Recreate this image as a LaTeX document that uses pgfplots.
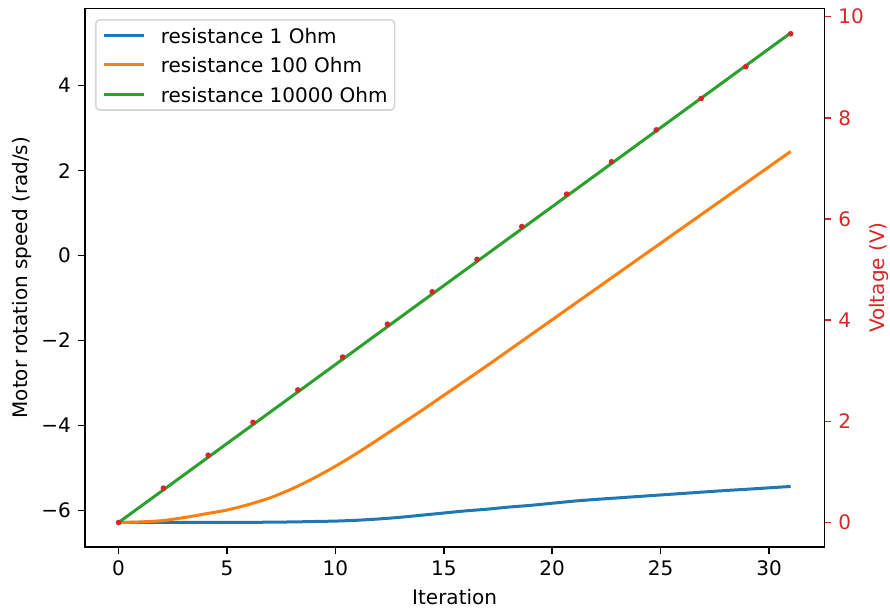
\documentclass[border=0pt]{standalone}
\usepackage{fontspec}
\setmainfont{DejaVu Sans}
\usepackage{pgfplots}
\pgfplotsset{compat=1.18}
\definecolor{tabblue}{HTML}{1F77B4}
\definecolor{taborange}{HTML}{FF7F0E}
\definecolor{tabgreen}{HTML}{2CA02C}
\definecolor{tabred}{HTML}{D62728}
\definecolor{legframe}{HTML}{D6D6D6}
\begin{document}
\begin{tikzpicture}
\fontsize{10}{12}\selectfont
\path[use as bounding box] (-42.5pt,-32.5pt) rectangle (402.5pt,273.5pt);
\pgfplotsset{
  every axis/.append style={
    scale only axis, width=369.65pt, height=269.35pt,
    at={(0pt,0pt)}, anchor=south west,
    xmin=-1.55, xmax=32.55,
    axis line style={line width=0.8pt, black},
    tick style={line width=0.8pt},
    major tick length=3.5pt,
    tick align=outside,
    font=\fontsize{10}{12}\selectfont,
    /pgf/number format/assume math mode=true,
  }
}
\begin{axis}[
  ymin=-6.86, ymax=5.82,
  xtick={0,5,10,15,20,25,30},
  ytick={-6,-4,-2,0,2,4},
  yticklabels={−6,−4,−2,0,2,4},
  xtick pos=bottom, ytick pos=left,
  tick style={black},
  xlabel={Iteration},
  ylabel={Motor rotation speed (rad/s)},
  xlabel style={at={(axis description cs:0.5,-0.0928)}, anchor=center},
  ylabel style={at={(axis description cs:-0.0856,0.5)}, anchor=center},
  legend cell align=left,
  legend style={at={(0.0135,0.9801)}, anchor=north west,
    draw=legframe, line width=0.8pt, rounded corners=2pt,
    fill=white, inner xsep=3.5pt, inner ysep=4pt,
    row sep=7.15pt, column sep=7.5pt,
    nodes={inner sep=0pt, text height=7.6pt, text depth=0pt},
    font=\fontsize{10}{12}\selectfont},
  legend image code/.code={\draw[#1, line width=1.5pt] (0pt,0pt) -- (20pt,0pt);},
]
\addplot[tabblue, line width=1.5pt, no marks, smooth, tension=0.4] coordinates {
(0,-6.283) (2,-6.283) (4,-6.282) (6,-6.28) (8,-6.27) (9,-6.26) (10,-6.25)
(11,-6.23) (12,-6.20) (13,-6.16) (14,-6.11) (15,-6.06) (16,-6.01) (17,-5.97)
(18,-5.92) (19,-5.88) (20,-5.83) (21,-5.78) (22,-5.74) (23,-5.705) (24,-5.67)
(25,-5.635) (26,-5.60) (27,-5.565) (28,-5.53) (29,-5.50) (30,-5.467) (31,-5.435)
};
\addlegendentry{resistance 1 Ohm}
\addplot[taborange, line width=1.5pt, no marks, smooth, tension=0.4] coordinates {
(0,-6.283) (1,-6.27) (2,-6.24) (3,-6.17) (4,-6.08) (5,-5.99) (6,-5.86)
(7,-5.70) (8,-5.49) (9,-5.24) (10,-4.96) (11,-4.65) (12,-4.32) (13,-3.98)
(14,-3.64) (15,-3.29) (16,-2.94) (17,-2.59) (18,-2.23) (19,-1.87) (20,-1.51)
(21,-1.15) (22,-0.79) (23,-0.43) (24,-0.07) (25,0.29) (26,0.65) (27,1.01)
(28,1.37) (29,1.73) (30,2.09) (31,2.45)
};
\addlegendentry{resistance 100 Ohm}
\addplot[tabgreen, line width=1.5pt, no marks] coordinates {
(0,-6.283) (31,5.24)
};
\addlegendentry{resistance 10000 Ohm}
\end{axis}
\begin{axis}[
  axis x line=none, axis y line*=right,
  ymin=-0.484, ymax=10.164,
  ytick={0,2,4,6,8,10},
  ytick style={tabred},
  yticklabel style={text=tabred},
  ylabel={Voltage (V)},
  ylabel style={text=tabred, at={(axis description cs:1.074,0.5)}, anchor=center},
]
\addplot[only marks, mark=*, mark size=1.2pt, tabred] coordinates {
(0,0) (2.067,0.68) (4.133,1.33) (6.2,1.98) (8.267,2.62) (10.333,3.27)
(12.4,3.92) (14.467,4.56) (16.533,5.2) (18.6,5.85) (20.667,6.49)
(22.733,7.13) (24.8,7.76) (26.867,8.38) (28.933,9.01) (31,9.66)
};
\end{axis}
\end{tikzpicture}
\end{document}
